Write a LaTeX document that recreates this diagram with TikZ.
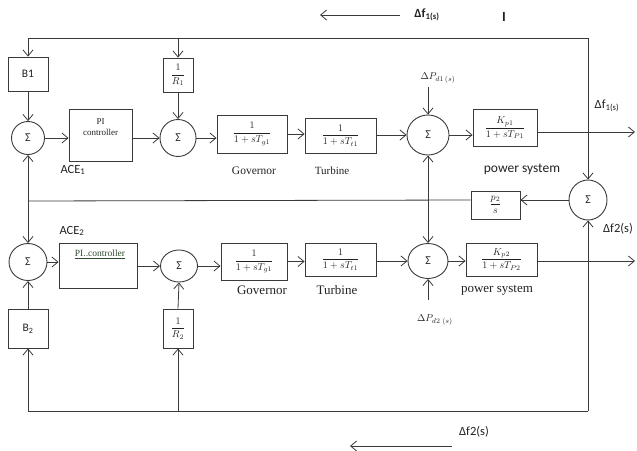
\documentclass[tikz,border=0pt]{standalone}
\usepackage{fontspec}
\usepackage{amsmath}
\setmainfont{Liberation Serif}
\newfontfamily\carl{Carlito}
\usetikzlibrary{arrows.meta,shapes.geometric}
\definecolor{lc}{HTML}{3A3A3A}
\definecolor{txt}{HTML}{222222}
\definecolor{pigreen}{HTML}{2E4A2E}
\begin{document}
\begin{tikzpicture}[x=1pt,y=-1pt,
  blk/.style={draw=lc, line width=0.9pt, rectangle, inner sep=0pt, text=txt,
    font=\fontsize{10}{11}\selectfont},
  sumn/.style={draw=lc, line width=0.9pt, ellipse, inner sep=0pt, text=txt,
    font=\carl\fontsize{12}{12}\selectfont},
  conn/.style={draw=lc, line width=0.8pt, -{Straight Barb[length=6pt,width=10pt]}},
  plain/.style={draw=lc, line width=0.8pt},
  sanslbl/.style={text=txt, inner sep=0pt, font=\carl\fontsize{12.5}{13}\selectfont},
  seriflbl/.style={text=txt, inner sep=0pt, font=\fontsize{12}{13}\selectfont},
  mathlbl/.style={text=txt, inner sep=0pt, font=\fontsize{10}{11}\selectfont}]

\path[use as bounding box] (0,0) rectangle (637,450);

% ---- area 1 (upper row) ----
\node[blk, minimum width=40pt, minimum height=34pt, font=\carl\fontsize{11.5}{12}\selectfont] (b1) at (28,74) {B1};
\node[sumn, minimum width=33pt, minimum height=33pt] (s11) at (28,138) {Σ};
\node[blk, minimum width=63pt, minimum height=52pt] (pi1) at (100.5,135) {};
\node[text=txt, align=center, inner sep=0pt, font=\fontsize{9}{11}\selectfont] (pi1t) at (100.5,127.5) {PI\\controller};
\node[sumn, minimum width=36pt, minimum height=37pt] (s12) at (178,138) {Σ};
\node[blk, minimum width=30pt, minimum height=34pt] (r1) at (178,75) {$\dfrac{1}{R_1}$};
\node[blk, minimum width=70pt, minimum height=38pt] (gov1) at (252,134) {$\dfrac{1}{1+sT_{g1}}$};
\node[blk, minimum width=71pt, minimum height=35pt] (tur1) at (340.5,135.5) {$\dfrac{1}{1+sT_{t1}}$};
\node[sumn, minimum width=42pt, minimum height=40pt] (s13) at (428,135) {Σ};
\node[blk, minimum width=64pt, minimum height=37pt] (kp1) at (505,128) {$\dfrac{K_{p1}}{1+sT_{P1}}$};

% ---- tie line ----
\node[sumn, minimum width=38pt, minimum height=40pt] (s4) at (588,200) {Σ};
\node[blk, minimum width=49pt, minimum height=28pt] (p2s) at (495.5,205) {$\dfrac{p_2}{s}$};

% ---- area 2 (lower row) ----
\node[sumn, minimum width=38pt, minimum height=37pt] (s21) at (28,262) {Σ};
\node[blk, minimum width=78pt, minimum height=45pt] (pi2) at (98,265.5) {};
\node[text=pigreen, inner sep=0pt, font=\fontsize{9.5}{11}\selectfont] (pi2t) at (100,254) {\underline{PI..controller}};
\node[sumn, minimum width=37pt, minimum height=32pt] (s22) at (179,266) {Σ};
\node[blk, minimum width=30pt, minimum height=39pt] (r2) at (178,328.5) {$\dfrac{1}{R_2}$};
\node[blk, minimum width=40pt, minimum height=39pt, font=\carl\fontsize{11.5}{12}\selectfont] (b2) at (28,328.5) {B\textsubscript{2}};
\node[blk, minimum width=66pt, minimum height=37pt] (gov2) at (254,261.5) {$\dfrac{1}{1+sT_{g1}}$};
\node[blk, minimum width=71pt, minimum height=33pt] (tur2) at (340.5,259.5) {$\dfrac{1}{1+sT_{t1}}$};
\node[sumn, minimum width=40pt, minimum height=35pt] (s23) at (428,261) {Σ};
\node[blk, minimum width=71pt, minimum height=33pt] (kp2) at (501.5,259.5) {$\dfrac{K_{p2}}{1+sT_{P2}}$};

% ---- wiring points ----
\coordinate (tl) at (28,38);
\coordinate (tm) at (178,38);
\coordinate (tr) at (588,38);
\coordinate (bl) at (28,411);
\coordinate (bm) at (178,411);
\coordinate (br) at (588,411);
\coordinate (jl) at (28,201);
\coordinate (jm) at (428,201);
\coordinate (f1o) at (635,132);
\coordinate (f2o) at (635,261);
\coordinate (pd1) at (428,87);
\coordinate (pd2) at (428,300);

% frequency feedback loops
\draw[plain] (tl) -- (tr);
\draw[plain] (bl) -- (br);
\draw[conn] (tl) -- (b1.north);
\draw[conn] (b1.south) -- (s11.north);
\draw[conn] (tm) -- (r1.north);
\draw[conn] (r1.south) -- (s12.north);
\draw[conn] (tr) -- (s4.north);
\draw[conn] (br) -- (s4.south);
\draw[conn] (bl) -- (b2.south);
\draw[conn] (b2.north) -- (s21.south);
\draw[conn] (bm) -- (r2.south);
\draw[conn] (r2.north) -- (s22.south);

% tie-line power
\draw[conn] (s4.west) -- (s4.west -| p2s.east);
\draw[plain] (p2s.west |- s4.west) -- (jl);
\draw[conn] (jl) -- (s11.south);
\draw[conn] (jl) -- (s21.north);
\draw[conn] (jm) -- (s13.south);
\draw[conn] (jm) -- (s23.north);

% forward path, area 1
\draw[conn] (s11.east) -- (s11.east -| pi1.west);
\draw[conn] (pi1.east |- s12) -- (s12.west);
\draw[conn] (s12.east) -- (s12.east -| gov1.west);
\draw[conn] (gov1.east) -- (gov1.east -| tur1.west);
\draw[conn] (tur1.east |- s13) -- (s13.west);
\draw[conn] (s13.east) -- (s13.east -| kp1.west);
\draw[conn] (kp1.east |- f1o) -- (f1o);
\draw[conn] (pd1) -- (s13.north);

% forward path, area 2
\draw[conn] (s21.east) -- (s21.east -| pi2.west);
\draw[conn] (pi2.east |- s22) -- (s22.west);
\draw[conn] (s22.east) -- (s22.east -| gov2.west);
\draw[conn] (gov2.east) -- (gov2.east -| tur2.west);
\draw[conn] (tur2.east |- s23) -- (s23.west);
\draw[conn] (s23.east) -- (s23.east -| kp2.west);
\draw[conn] (kp2.east |- f2o) -- (f2o);
\draw[conn] (pd2) -- (s23.south);

% labels
\node[sanslbl] (ace1) at (73,170) {ACE\textsubscript{1}};
\node[seriflbl, font=\fontsize{11.5}{13}\selectfont] (govl1) at (254,171) {Governor};
\node[seriflbl, font=\fontsize{11}{13}\selectfont] (turl1) at (332,171) {Turbine};
\node[sanslbl, font=\carl\fontsize{13.5}{14}\selectfont] (psl1) at (522,169) {power system};
\node[mathlbl] (pd1l) at (438,78) {$\Delta P_{d1\,(s)}$};
\node[sanslbl] (f1r) at (607,106) {Δf\textsubscript{1(s)}};

\node[sanslbl] (ace2) at (72,231) {ACE\textsubscript{2}};
\node[seriflbl, font=\fontsize{13}{14}\selectfont] (govl2) at (262,290) {Governor};
\node[seriflbl, font=\fontsize{13}{14}\selectfont] (turl2) at (337,290) {Turbine};
\node[seriflbl, font=\fontsize{13}{14}\selectfont] (psl2) at (497,290) {power system};
\node[mathlbl] (pd2l) at (435,320) {$\Delta P_{d2\;(s)}$};
\node[sanslbl] (f2r) at (618,229) {Δf2(s)};

% direction markers
\coordinate (a1s) at (400,15);
\coordinate (a1e) at (320,15);
\draw[conn] (a1s) -- (a1e);
\node[sanslbl, font=\carl\bfseries\fontsize{12.5}{13}\selectfont] (f1top) at (427,15) {Δf\textsubscript{1(s)}};
\node[sanslbl, font=\carl\bfseries\fontsize{14}{14}\selectfont] (cur) at (504,17) {I};
\coordinate (a2s) at (452,446);
\coordinate (a2e) at (350,446);
\draw[conn] (a2s) -- (a2e);
\node[sanslbl] (f2b) at (474,432) {Δf2(s)};

\end{tikzpicture}
\end{document}
